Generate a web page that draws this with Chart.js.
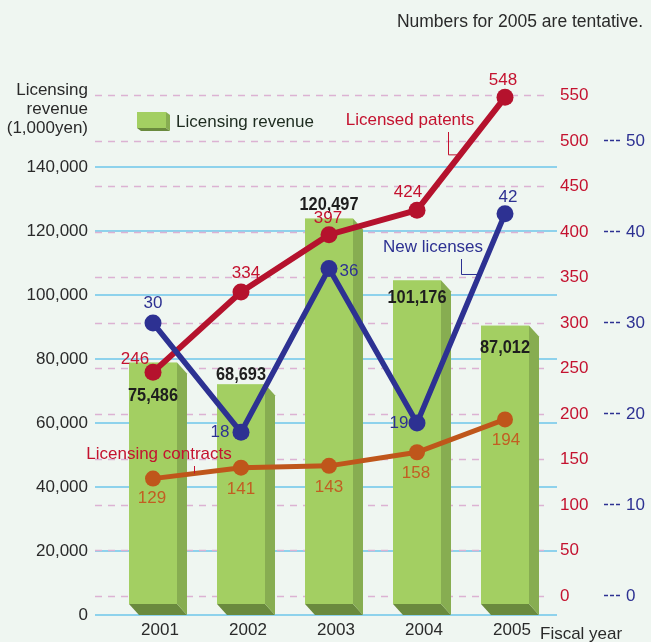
<!DOCTYPE html>
<html>
<head>
<meta charset="utf-8">
<script src="https://cdn.jsdelivr.net/npm/chart.js@4.4.0/dist/chart.umd.min.js"></script>
<style>
  html, body { margin: 0; padding: 0; background: #eff6f1; }
  #wrap { width: 651px; height: 642px; }
</style>
</head>
<body>
<div id="wrap"><canvas id="myChart" width="651" height="642"></canvas></div>
<script>
// fiscal years and yearly figures
const years = ['2001', '2002', '2003', '2004', '2005'];
const revenue = [75486, 68693, 120497, 101176, 87012];   // 1,000 yen
const patents = [246, 334, 397, 424, 548];
const newLicenses = [30, 18, 36, 19, 42];
const contracts = [129, 141, 143, 158, 194];

// axis ticks
const revenueTicks = [0, 20000, 40000, 60000, 80000, 100000, 120000, 140000];
const patentTicks = [0, 50, 100, 150, 200, 250, 300, 350, 400, 450, 500, 550];
const licenseTicks = [0, 10, 20, 30, 40, 50];

const RED = '#b5122d', RED_TXT = '#c4122f';
const BLUE = '#2d3192';
const ORANGE = '#bf561b', ORANGE_TXT = '#c25e22';
const INK = '#2a2a2a';
const FONT = '"Liberation Sans", Arial, sans-serif';

// where each value label sits relative to its point / bar top
const labelOffsets = {
  patents:  [[-18, -13], [5, -19], [-1, -16], [-9, -18], [-2, -17]],
  licenses: [[0, -20], [-21, 0], [20, 3], [-18, 0], [3, -16]],
  contracts:[[-1, 20], [0, 22], [0, 21], [-1, 21], [1, 21]],
  revenue:  [33, -9, -14, 18, 22]
};

const DEPTH_X = 10, DEPTH_Y = 11;

function fitWidth(w) { return s => { s.width = w; }; }
function useTicks(list) { return s => { s.ticks = list.map(v => ({ value: v })); }; }

const decorations = {
  id: 'decorations',
  beforeDraw(chart) {
    const ctx = chart.ctx;
    ctx.save();
    ctx.fillStyle = '#eff6f1';
    ctx.fillRect(0, 0, chart.width, chart.height);
    ctx.restore();
  },
  beforeDatasetsDraw(chart) {
    const ctx = chart.ctx, area = chart.chartArea;
    const yRev = chart.scales.y, yPat = chart.scales.yPat;
    ctx.save();
    // solid cyan lines on the revenue scale
    ctx.strokeStyle = '#8ed2ec';
    ctx.lineWidth = 2;
    revenueTicks.forEach(v => {
      const y = Math.round(yRev.getPixelForValue(v));
      ctx.beginPath();
      ctx.moveTo(area.left - 14, y);
      ctx.lineTo(area.right + 8, y);
      ctx.stroke();
    });
    // dashed pink lines on the patent scale
    ctx.strokeStyle = '#dcb2d3';
    ctx.lineWidth = 1.5;
    ctx.setLineDash([7, 6]);
    patentTicks.forEach(v => {
      const y = Math.round(yPat.getPixelForValue(v)) + 0.5;
      ctx.beginPath();
      ctx.moveTo(area.left - 14, y);
      ctx.lineTo(area.right, y);
      ctx.stroke();
    });
    ctx.setLineDash([]);

    // 3D revenue bars
    const meta = chart.getDatasetMeta(0);
    meta.data.forEach(bar => {
      const p = bar.getProps(['x', 'y', 'base', 'width'], true);
      const l = p.x - p.width / 2, r = p.x + p.width / 2;
      const top = p.y - DEPTH_Y, bottom = p.base - DEPTH_Y;
      ctx.fillStyle = '#6a8a3e';
      ctx.beginPath();
      ctx.moveTo(l, bottom); ctx.lineTo(r, bottom);
      ctx.lineTo(r + DEPTH_X, p.base); ctx.lineTo(l + DEPTH_X, p.base);
      ctx.closePath(); ctx.fill();
      ctx.fillStyle = '#87ad51';
      ctx.beginPath();
      ctx.moveTo(r, top); ctx.lineTo(r + DEPTH_X, p.y);
      ctx.lineTo(r + DEPTH_X, p.base); ctx.lineTo(r, bottom);
      ctx.closePath(); ctx.fill();
      ctx.fillStyle = '#a3cf62';
      ctx.fillRect(l, top, p.width, bottom - top);
    });
    ctx.restore();
  },
  afterDatasetsDraw(chart) {
    const ctx = chart.ctx, area = chart.chartArea;
    ctx.save();
    ctx.textAlign = 'center';
    ctx.textBaseline = 'middle';

    // bar values, bold and slightly condensed
    chart.getDatasetMeta(0).data.forEach((bar, i) => {
      const ty = bar.y - DEPTH_Y + labelOffsets.revenue[i];
      ctx.save();
      ctx.translate(bar.x, ty);
      ctx.scale(0.86, 1);
      ctx.font = 'bold 19px ' + FONT;
      ctx.fillStyle = '#1e1e1e';
      ctx.fillText(revenue[i].toLocaleString('en-US'), 0, 0);
      ctx.restore();
    });

    // point values
    ctx.font = '17px ' + FONT;
    const pointSets = [
      [1, patents, labelOffsets.patents, RED_TXT],
      [2, newLicenses, labelOffsets.licenses, BLUE],
      [3, contracts, labelOffsets.contracts, ORANGE_TXT]
    ];
    pointSets.forEach(([idx, values, offs, color]) => {
      ctx.fillStyle = color;
      chart.getDatasetMeta(idx).data.forEach((pt, i) => {
        ctx.fillText(String(values[i]), pt.x + offs[i][0], pt.y + offs[i][1]);
      });
    });

    // series notes with leader lines
    const notes = [
      { idx: 1, text: 'Licensed patents', color: RED_TXT, seg: 3, t: 0.49, tx: 410, ty: 120, lx: 448 },
      { idx: 2, text: 'New licenses', color: BLUE, seg: 3, t: 0.71, tx: 433, ty: 247, lx: 461 },
      { idx: 3, text: 'Licensing contracts', color: RED_TXT, seg: 0, t: 0.47, tx: 159, ty: 454, lx: 194 }
    ];
    notes.forEach(n => {
      const pts = chart.getDatasetMeta(n.idx).data;
      const a = pts[n.seg], b = pts[n.seg + 1];
      const ex = a.x + (b.x - a.x) * n.t, ey = a.y + (b.y - a.y) * n.t;
      ctx.fillStyle = n.color;
      ctx.fillText(n.text, n.tx, n.ty);
      ctx.strokeStyle = n.color;
      ctx.lineWidth = 1;
      ctx.beginPath();
      ctx.moveTo(n.lx + 0.5, n.ty + 12);
      ctx.lineTo(n.lx + 0.5, ey);
      ctx.lineTo(ex, ey);
      ctx.stroke();
    });

    // legend for the bars
    const lx = area.left + 28, ly = area.top + 22;
    ctx.fillStyle = '#6a8a3e';
    ctx.beginPath();
    ctx.moveTo(lx, ly + 16); ctx.lineTo(lx + 29, ly + 16);
    ctx.lineTo(lx + 33, ly + 19); ctx.lineTo(lx + 4, ly + 19);
    ctx.closePath(); ctx.fill();
    ctx.fillStyle = '#87ad51';
    ctx.beginPath();
    ctx.moveTo(lx + 29, ly); ctx.lineTo(lx + 33, ly + 3);
    ctx.lineTo(lx + 33, ly + 19); ctx.lineTo(lx + 29, ly + 16);
    ctx.closePath(); ctx.fill();
    ctx.fillStyle = '#a3cf62';
    ctx.fillRect(lx, ly, 29, 16);
    ctx.textAlign = 'left';
    ctx.fillStyle = '#1d2b1f';
    ctx.fillText(chart.data.datasets[0].label, lx + 39, ly + 10);

    // headings
    ctx.fillStyle = INK;
    ctx.textAlign = 'right';
    ctx.font = '17.5px ' + FONT;
    ctx.fillText('Numbers for 2005 are tentative.', 643, 22);
    ctx.font = '17px ' + FONT;
    ['Licensing', 'revenue', '(1,000yen)'].forEach((s, i) => ctx.fillText(s, 88, 90 + i * 19));
    ctx.textAlign = 'left';
    ctx.fillText('Fiscal year', 540, 634);
    ctx.restore();
  }
};

Chart.defaults.font.family = FONT;
Chart.defaults.font.size = 17;

const myChart = new Chart(document.getElementById('myChart').getContext('2d'), {
  data: {
    labels: years,
    datasets: [
      {
        type: 'bar', label: 'Licensing revenue', data: revenue, yAxisID: 'y',
        backgroundColor: 'rgba(0,0,0,0)', borderWidth: 0, barThickness: 48, order: 3
      },
      {
        type: 'line', label: 'Licensed patents', data: patents, yAxisID: 'yPat',
        borderColor: RED, backgroundColor: RED, borderWidth: 6, pointRadius: 8.5,
        pointBorderWidth: 0, pointBackgroundColor: RED, clip: false, order: 1
      },
      {
        type: 'line', label: 'New licenses', data: newLicenses, yAxisID: 'yLic',
        borderColor: BLUE, backgroundColor: BLUE, borderWidth: 5.5, pointRadius: 8.5,
        pointBorderWidth: 0, pointBackgroundColor: BLUE, clip: false, order: 0
      },
      {
        type: 'line', label: 'Licensing contracts', data: contracts, yAxisID: 'yPat',
        borderColor: ORANGE, backgroundColor: ORANGE, borderWidth: 5, pointRadius: 8,
        pointBorderWidth: 0, pointBackgroundColor: ORANGE, clip: false, order: 2
      }
    ]
  },
  options: {
    responsive: false,
    animation: false,
    devicePixelRatio: 1,
    layout: { padding: { top: 90, left: 0, right: 0, bottom: 0 } },
    plugins: { legend: { display: false }, tooltip: { enabled: false }, title: { display: false } },
    scales: {
      x: {
        grid: { display: false, drawTicks: false },
        border: { display: false },
        ticks: { color: INK, padding: 5, labelOffset: 7, font: { size: 17 } },
        afterFit: s => { s.height = 27; }
      },
      y: {
        position: 'left', min: 0, max: 164062.5,
        afterBuildTicks: useTicks(revenueTicks),
        // invisible tick marks keep the labels off the plot without padding the bottom
        grid: { display: false, drawTicks: true, tickLength: 21 },
        border: { display: false },
        ticks: { color: INK, padding: 0, font: { size: 17 }, callback: v => v.toLocaleString('en-US') },
        afterFit: fitWidth(109)
      },
      yPat: {
        position: 'right', min: -20.879, max: 556.04,
        afterBuildTicks: useTicks(patentTicks),
        grid: { display: false, drawTicks: false },
        border: { display: false },
        ticks: { color: RED_TXT, padding: 11, font: { size: 17 }, callback: v => String(v) },
        afterFit: fitWidth(55)
      },
      yLic: {
        position: 'right', min: -2.0879, max: 55.604,
        afterBuildTicks: useTicks(licenseTicks),
        grid: {
          display: true, drawOnChartArea: false, drawTicks: true, tickLength: 16,
          tickColor: BLUE, tickWidth: 1.5, tickBorderDash: [4, 2]
        },
        border: { display: false },
        ticks: { color: BLUE, padding: 6, font: { size: 17 }, callback: v => String(v) },
        afterFit: fitWidth(47)
      }
    }
  },
  plugins: [decorations]
});
</script>
</body>
</html>
